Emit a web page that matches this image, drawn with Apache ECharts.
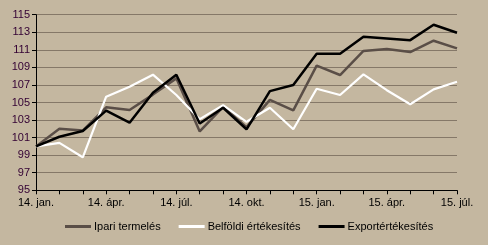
<!DOCTYPE html>
<html><head><meta charset="utf-8">
<script src="https://cdn.jsdelivr.net/npm/echarts@6/dist/echarts.min.js"></script>
<style>html,body{margin:0;padding:0;background:#c4b7a0}#c{width:488px;height:245px}</style>
</head><body><div id="c"></div>
<script>
const categories = ['14. jan.','14. feb.','14. márc.','14. ápr.','14. máj.','14. jún.','14. júl.','14. aug.','14. szept.','14. okt.','14. nov.','14. dec.','15. jan.','15. feb.','15. márc.','15. ápr.','15. máj.','15. jún.','15. júl.'];
const ipari = [100.0,102.0,101.8,104.45,104.15,105.9,107.75,101.7,104.5,102.2,105.3,104.1,109.2,108.13,110.87,111.1,110.75,112.04,111.17];
const belfoldi = [100.0,100.4,98.76,105.66,106.8,108.17,105.85,103.1,104.7,102.8,104.4,101.95,106.57,105.85,108.2,106.4,104.8,106.5,107.37];
const export_ = [100.0,101.1,101.75,104.07,102.7,106.1,108.17,102.6,104.4,101.95,106.3,107.0,110.56,110.56,112.5,112.3,112.1,113.86,112.95];
const seriesNames = ['Ipari termelés','Belföldi értékesítés','Exportértékesítés'];
const yTicks = {min:95, max:115, interval:2};

const chart = echarts.init(document.getElementById('c'), null, {renderer:'canvas'});
const font = 'Liberation Sans, Arial, sans-serif';
chart.setOption({
  backgroundColor:'#c4b7a0',
  animation:false,
  grid:{left:36, right:31, top:14.7, bottom:54.7, containLabel:false},
  legend:{
    data:seriesNames, left:60, top:216, itemWidth:26, itemHeight:3, itemGap:18,
    icon:'rect',
    textStyle:{fontFamily:font, fontSize:11, color:'#000', padding:[0,0,0,-2]}
  },
  xAxis:{
    type:'category', data:categories, boundaryGap:false,
    axisLine:{lineStyle:{color:'#000', width:1}},
    axisTick:{show:true, interval:0, length:4, lineStyle:{color:'#000'}},
    axisLabel:{interval:2, fontFamily:font, fontSize:11, color:'#000', margin:7},
    splitLine:{show:false}
  },
  yAxis:{
    type:'value', min:yTicks.min, max:yTicks.max, interval:yTicks.interval,
    axisLine:{show:true, lineStyle:{color:'#000', width:1}},
    axisTick:{show:true, length:4, lineStyle:{color:'#000'}},
    axisLabel:{fontFamily:font, fontSize:11, color:'#330033', margin:6},
    splitLine:{show:true, lineStyle:{color:'#857868', width:1}}
  },
  series:[
    {name:seriesNames[0], type:'line', data:ipari, symbol:'none', lineStyle:{color:'#5a4e47', width:2.5}, itemStyle:{color:'#5a4e47'}},
    {name:seriesNames[1], type:'line', data:belfoldi, symbol:'none', lineStyle:{color:'#ffffff', width:2.2}, itemStyle:{color:'#ffffff'}},
    {name:seriesNames[2], type:'line', data:export_, symbol:'none', lineStyle:{color:'#000000', width:2.5}, itemStyle:{color:'#000000'}}
  ]
});
</script></body></html>
